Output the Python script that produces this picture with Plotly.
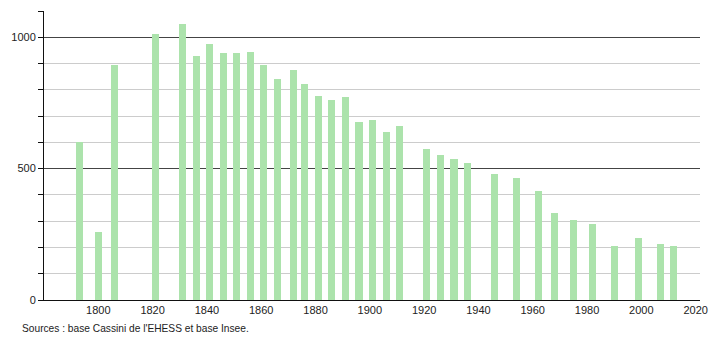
import plotly.graph_objects as go

years = [1793, 1800, 1806, 1821, 1831, 1836, 1841, 1846, 1851, 1856, 1861, 1866,
         1872, 1876, 1881, 1886, 1891, 1896, 1901, 1906, 1911, 1921, 1926, 1931,
         1936, 1946, 1954, 1962, 1968, 1975, 1982, 1990, 1999, 2007, 2012]
population = [600, 260, 893, 1014, 1052, 928, 975, 939, 939, 944, 893, 843,
              875, 821, 777, 763, 771, 676, 684, 639, 662, 573, 551, 537,
              522, 479, 464, 414, 333, 304, 289, 205, 236, 213, 205]
x_ticks = [1800, 1820, 1840, 1860, 1880, 1900, 1920, 1940, 1960, 1980, 2000, 2020]
y_ticks = [0, 500, 1000]
source_text = "Sources : base Cassini de l'EHESS et base Insee."

fig = go.Figure(go.Bar(
    x=years, y=population, width=2.6,
    marker=dict(color="#ace3ac", line=dict(width=0)),
    hoverinfo="x+y",
))

font = dict(family="Liberation Sans, Arial, sans-serif", size=11, color="#222")

fig.update_layout(
    width=710, height=340,
    margin=dict(l=44, r=10, t=11, b=40, autoexpand=False),
    paper_bgcolor="white", plot_bgcolor="white",
    font=font, showlegend=False, bargap=0,
    xaxis=dict(range=[1780, 2021.6], tickvals=x_ticks, showgrid=False,
               showline=True, linecolor="#111", linewidth=1, ticks="",
               zeroline=False, tickfont=font, automargin=False),
    yaxis=dict(range=[0, 1100], tickvals=y_ticks, showgrid=True,
               gridcolor="#444", gridwidth=1, automargin=False,
               showline=True, linecolor="#111", linewidth=1,
               ticks="outside", ticklen=5, tickcolor="#111",
               zeroline=False, tickfont=font,
               minor=dict(dtick=100, showgrid=True, gridcolor="#cccccc",
                          ticks="outside", ticklen=5, tickcolor="#111")),
    annotations=[dict(text=source_text, xref="paper", yref="paper",
                      x=-24/656, y=-0.072, xanchor="left", yanchor="top",
                      showarrow=False, font=dict(family="Liberation Sans, Arial, sans-serif",
                                                 size=10.2, color="#222"))],
)

fig.write_html("out.html")
